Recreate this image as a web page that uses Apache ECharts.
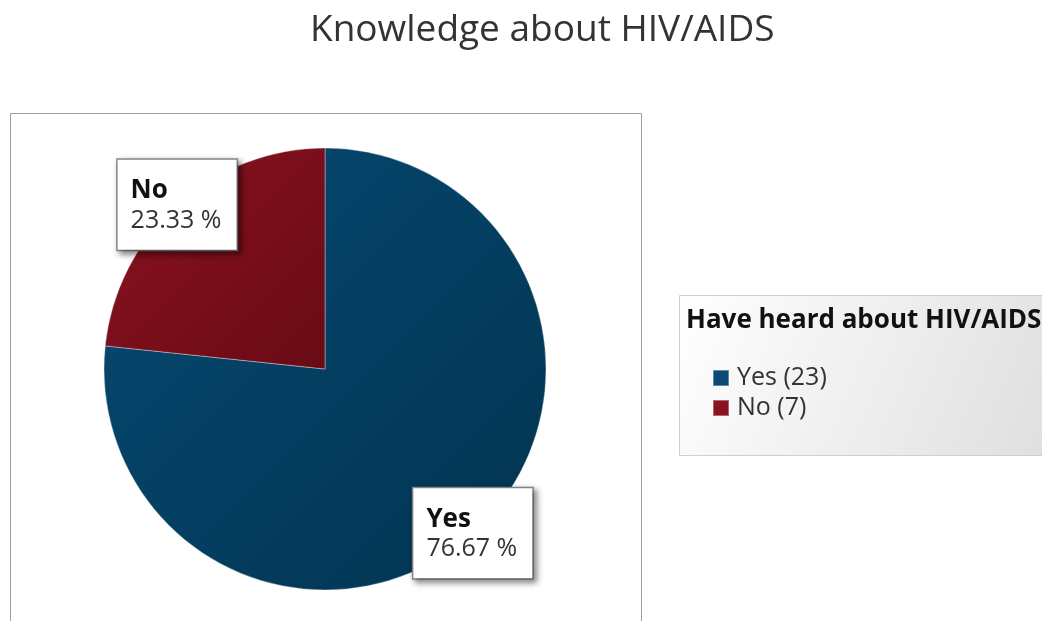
<!DOCTYPE html>
<html>
<head>
<meta charset="utf-8">
<script src="https://cdn.jsdelivr.net/npm/echarts@6/dist/echarts.min.js"></script>
<style>
html,body{margin:0;padding:0;background:#fff;}
#main{width:1042px;height:621px;}
</style>
</head>
<body>
<div id="main"></div>
<script>
const categories = ['Yes', 'No'];
const counts = [23, 7];
const titleText = 'Knowledge about HIV/AIDS';
const legendTitle = 'Have heard about HIV/AIDS';

const FONT = "'Open Sans', 'Noto Sans', sans-serif";
const CX = 325, CY = 369, R = 221;
const total = counts.reduce((a, b) => a + b, 0);

const colors = [
  new echarts.graphic.LinearGradient(0, 0, 1, 1, [
    {offset: 0, color: '#074a74'}, {offset: 1, color: '#02334f'}
  ]),
  new echarts.graphic.LinearGradient(0, 0, 1, 1, [
    {offset: 0, color: '#8c1220'}, {offset: 1, color: '#680b15'}
  ])
];
const legendColors = ['#0b4a74', '#8a1322'];

const chart = echarts.init(document.getElementById('main'));
chart.setOption({
  animation: false,
  title: [
    {
      text: titleText, left: 305, top: 7,
      textStyle: {fontFamily: FONT, fontSize: 37, fontWeight: 'normal', color: '#333'}
    },
    {
      text: legendTitle, left: 681, top: 303,
      textStyle: {fontFamily: FONT, fontSize: 26, fontWeight: 'bold', color: '#111'}
    }
  ],
  graphic: [
    {
      type: 'rect', z: -10, silent: true,
      shape: {x: 10.5, y: 113.5, width: 631, height: 530},
      style: {fill: '#fff', stroke: '#a0a0a0', lineWidth: 1}
    },
    {
      type: 'rect', z: -10, silent: true,
      shape: {x: 679.5, y: 295.5, width: 380, height: 160},
      style: {
        fill: new echarts.graphic.LinearGradient(0, 0, 1, 1, [
          {offset: 0, color: '#ffffff'}, {offset: 1, color: '#dedede'}
        ]),
        stroke: '#cfcfcf', lineWidth: 1
      }
    }
  ],
  legend: {
    orient: 'vertical', left: 707, top: 358,
    icon: 'rect', itemWidth: 16, itemHeight: 16, itemGap: 0,
    data: categories.map((c, i) => ({name: c, itemStyle: {color: legendColors[i]}})),
    formatter: name => name + ' (' + counts[categories.indexOf(name)] + ')',
    textStyle: {fontFamily: FONT, fontSize: 25, color: '#333', lineHeight: 30, padding: [0, 0, 0, 3]}
  },
  series: [{
    type: 'pie',
    center: [CX, CY],
    radius: R,
    startAngle: 90,
    clockwise: true,
    data: categories.map((c, i) => ({
      name: c, value: counts[i],
      itemStyle: {color: colors[i], borderColor: 'rgba(255,255,255,0.35)', borderWidth: 1}
    })),
    label: {
      show: true,
      position: 'inside',
      formatter: '{n|{b}}\n{v|{d} %}',
      backgroundColor: '#fff',
      borderColor: '#8a8a8a',
      borderWidth: 1.5,
      padding: [16, 10, 14, 13],
      width: 96,
      align: 'left',
      shadowColor: 'rgba(0,0,0,0.45)',
      shadowBlur: 6,
      shadowOffsetX: 3,
      shadowOffsetY: 3,
      rich: {
        n: {fontFamily: FONT, fontSize: 26, fontWeight: 'bold', color: '#111', lineHeight: 30, align: 'left'},
        v: {fontFamily: FONT, fontSize: 25, color: '#333', lineHeight: 30, align: 'left'}
      }
    },
    labelLine: {show: false},
    emphasis: {disabled: true},
    labelLayout: function (params) {
      let start = 0;
      for (let i = 0; i < params.dataIndex; i++) start += counts[i];
      const mid = (start + counts[params.dataIndex] / 2) / total * 2 * Math.PI;
      return {
        x: CX + Math.sin(mid) * R,
        y: CY - Math.cos(mid) * R,
        align: 'center',
        verticalAlign: 'middle'
      };
    }
  }]
});
</script>
</body>
</html>
